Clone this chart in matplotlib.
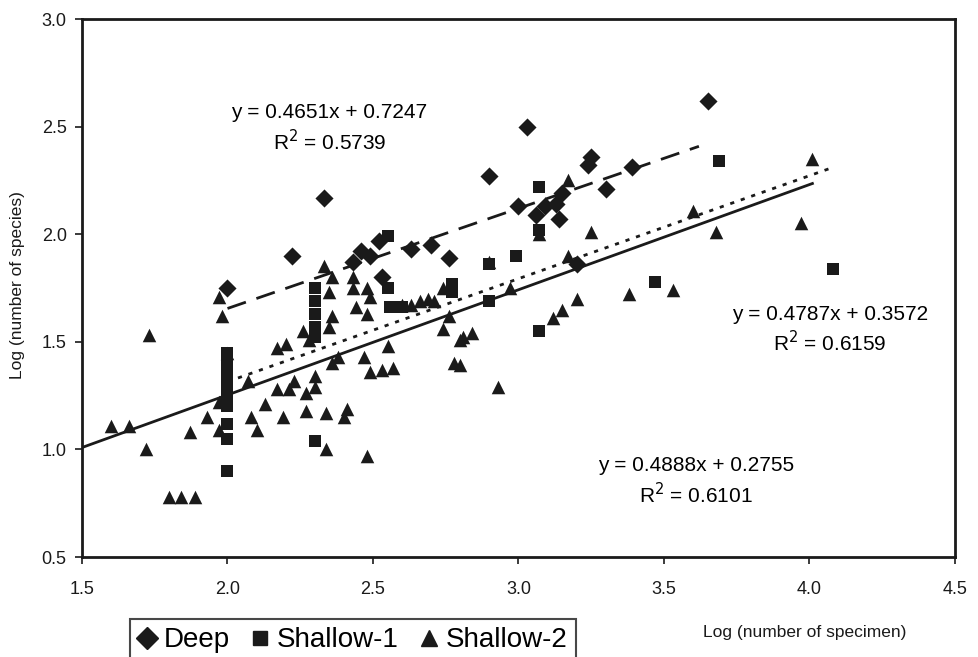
import matplotlib
matplotlib.use("Agg")
import matplotlib.pyplot as plt
import numpy as np

plt.rcParams['font.family'] = ['Liberation Sans', 'DejaVu Sans']

# ---- data (log specimen, log species) ----
deep_x = [2.00, 2.22, 2.33, 2.43, 2.46, 2.49, 2.52, 2.53, 2.63, 2.70, 2.76, 2.90, 3.03,
          3.25, 3.24, 3.39, 3.30, 3.00, 3.06, 3.09, 3.13, 3.14, 3.15, 3.20, 3.65]
deep_y = [1.75, 1.90, 2.17, 1.87, 1.92, 1.90, 1.97, 1.80, 1.93, 1.95, 1.89, 2.27, 2.50,
          2.36, 2.32, 2.31, 2.21, 2.13, 2.09, 2.13, 2.14, 2.07, 2.19, 1.86, 2.62]

sh1_x = [2.00, 2.00, 2.00, 2.00, 2.00, 2.00, 2.00, 2.00, 2.00,
         2.30, 2.30, 2.30, 2.30, 2.30, 2.30,
         2.55, 2.55, 2.56, 2.60, 2.77, 2.77, 3.07, 3.07, 2.99, 2.90, 2.90,
         3.07, 3.47, 3.69, 4.08]
sh1_y = [1.45, 1.40, 1.35, 1.30, 1.25, 1.12, 1.05, 0.90, 1.20,
         1.75, 1.69, 1.63, 1.57, 1.52, 1.04,
         1.99, 1.75, 1.66, 1.66, 1.77, 1.73, 2.22, 2.02, 1.90, 1.86, 1.69,
         1.55, 1.78, 2.34, 1.84]

sh2_x = [1.60, 1.66, 1.73, 1.72, 1.80, 1.84, 1.89, 1.87, 1.93, 1.97, 1.98, 1.97, 2.00,
         1.97, 2.07, 2.08, 2.10, 2.13, 2.17, 2.17, 2.20, 2.26, 2.33, 2.36, 2.35, 2.36,
         2.35, 2.28, 2.38, 2.36, 2.43, 2.43, 2.48, 2.44, 2.48, 2.49, 2.47, 2.55, 2.49,
         2.53, 2.57, 2.60, 2.63, 2.66, 2.69, 2.71, 2.74, 2.76, 2.74, 2.80, 2.78, 2.21,
         2.23, 2.30, 2.30, 2.27, 2.19, 2.27, 2.34, 2.41, 2.40, 2.34, 2.48, 3.17, 3.07,
         3.25, 3.17, 2.90, 2.97, 3.20, 3.15, 3.12, 3.38, 2.84, 2.81, 2.80, 2.93, 3.60,
         3.68, 4.01, 3.97, 3.53]
sh2_y = [1.11, 1.11, 1.53, 1.00, 0.78, 0.78, 0.78, 1.08, 1.15, 1.71, 1.62, 1.22, 1.45,
         1.09, 1.32, 1.15, 1.09, 1.21, 1.47, 1.28, 1.49, 1.55, 1.85, 1.80, 1.73, 1.62,
         1.57, 1.51, 1.43, 1.40, 1.80, 1.75, 1.75, 1.66, 1.63, 1.71, 1.43, 1.48, 1.36,
         1.37, 1.38, 1.67, 1.67, 1.69, 1.70, 1.69, 1.75, 1.62, 1.56, 1.51, 1.40, 1.28,
         1.32, 1.34, 1.29, 1.26, 1.15, 1.18, 1.17, 1.19, 1.15, 1.00, 0.97, 2.25, 2.00,
         2.01, 1.90, 1.87, 1.75, 1.70, 1.65, 1.61, 1.72, 1.54, 1.52, 1.39, 1.29, 2.11,
         2.01, 2.35, 2.05, 1.74]

# trend lines: slope, intercept, x range
deep_fit = (0.4651, 0.7247, 2.00, 3.62)
sh1_fit = (0.4787, 0.3572, 2.00, 4.08)
sh2_fit = (0.4888, 0.2755, 1.50, 4.01)

eq_texts = ["y = 0.4651x + 0.7247\nR$^2$ = 0.5739",
            "y = 0.4787x + 0.3572\nR$^2$ = 0.6159",
            "y = 0.4888x + 0.2755\nR$^2$ = 0.6101"]

W, H = 979, 657
fig = plt.figure(figsize=(W / 100, H / 100), dpi=100)
ax = fig.add_axes([82 / W, 1 - 557 / H, (955 - 82) / W, (557 - 19) / H])

col = '#1a1a1a'
ax.scatter(sh2_x, sh2_y, marker='^', s=95, color=col, linewidths=0, zorder=3)
ax.scatter(sh1_x, sh1_y, marker='s', s=80, color=col, linewidths=0, zorder=3)
ax.scatter(deep_x, deep_y, marker='D', s=85, color=col, linewidths=0, zorder=3)

def fit_line(f, **kw):
    m, b, x0, x1 = f
    xs = np.array([x0, x1])
    ax.plot(xs, m * xs + b, color=col, zorder=4, **kw)

fit_line(deep_fit, lw=2.0, dashes=(7, 4))
fit_line(sh1_fit, lw=2.0, dashes=(1.5, 2.5))
fit_line(sh2_fit, lw=2.0)

ax.text(2.35, 2.49, eq_texts[0], ha='center', va='center', fontsize=15, linespacing=1.3)
ax.text(4.07, 1.555, eq_texts[1], ha='center', va='center', fontsize=15, linespacing=1.3)
ax.text(3.61, 0.85, eq_texts[2], ha='center', va='center', fontsize=15, linespacing=1.3)

ax.set_xlim(1.5, 4.5)
ax.set_ylim(0.5, 3.0)
ax.set_xticks(np.arange(1.5, 4.51, 0.5))
ax.set_yticks(np.arange(0.5, 3.01, 0.5))
ax.xaxis.set_major_formatter(matplotlib.ticker.FormatStrFormatter('%.1f'))
ax.yaxis.set_major_formatter(matplotlib.ticker.FormatStrFormatter('%.1f'))
ax.tick_params(axis='both', direction='out', length=5, width=1.2, labelsize=13, colors=col)
ax.tick_params(axis='x', pad=12)
ax.tick_params(axis='y', pad=6)
for s in ax.spines.values():
    s.set_linewidth(2.0)
    s.set_color(col)

fig.text(18 / W, 1 - 285 / H, "Log (number of species)", rotation=90,
         ha='center', va='center', fontsize=12.5, color=col)
fig.text(805 / W, 1 - 632 / H, "Log (number of specimen)", ha='center', va='center',
         fontsize=12.5, color=col)

from matplotlib.lines import Line2D
handles = [Line2D([], [], marker='D', ls='none', color=col, markersize=11),
           Line2D([], [], marker='s', ls='none', color=col, markersize=10),
           Line2D([], [], marker='^', ls='none', color=col, markersize=12)]
leg = fig.legend(handles, ["Deep", "Shallow-1", "Shallow-2"], loc='upper left',
                 bbox_to_anchor=(130 / W, 1 - 619 / H), ncol=3, fontsize=20,
                 frameon=True, fancybox=False, handlelength=0.6, handletextpad=0.3,
                 columnspacing=0.8, borderpad=0.3, borderaxespad=0)
leg.get_frame().set_edgecolor(col)
leg.get_frame().set_linewidth(1.5)

fig.savefig("out.png", dpi=100)
